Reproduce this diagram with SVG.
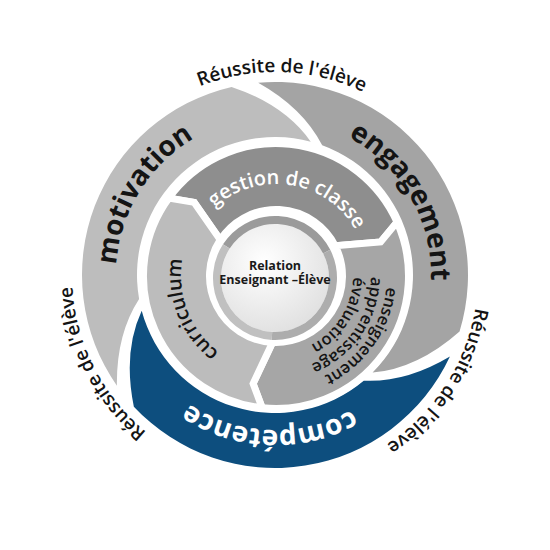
<svg xmlns="http://www.w3.org/2000/svg" width="550" height="550" viewBox="0 0 550 550">
<style>
  text { font-family: "Open Sans", "Noto Sans", "DejaVu Sans", sans-serif; }
  .big { font-size: 28px; font-weight: 700; fill: #141414; }
  .rd { font-size: 19px; font-weight: 600; fill: #141414; }
  .mid { font-size: 20px; font-weight: 600; }
  .sm { font-size: 16.5px; font-weight: 600; fill: #141414; }
  .ctr { font-size: 12.5px; font-weight: 700; fill: #1a1a1a; text-anchor: middle; }
  .seg { stroke: #ffffff; stroke-width: 7; stroke-linejoin: miter; }
  .ring { fill: none; stroke-width: 8; }
</style>
<defs>
  <path id="outerSeg" d="M116.90,385.70 A193,193 0 0 1 231.58,86.95 Q284.63,104.71 310.72,141.70 A138,138 0 0 0 139.10,298.96 Q116.2,334.33 116.90,385.70 Z"/>
  <path id="tpMotivation" d="M216.73,422.94 A159,159 0 1 1 380.36,155.92"/>
  <path id="tpEngagement" d="M174.73,155.50 A156,156 0 1 1 328.35,421.59"/>
  <path id="tpCompetence" d="M428.49,253.43 A155,155 0 1 1 123.39,242.77"/>
  <path id="tpRTop" d="M73.98,303.25 A203,203 0 1 1 473.56,317.21"/>
  <path id="tpRRight" d="M354.32,88.14 A203,203 0 1 1 136.55,423.46"/>
  <path id="tpRLeft" d="M397.17,437.12 A203,203 0 1 1 215.65,80.87"/>
  <path id="tpGestion" d="M184.01,277.61 A92,92 0 1 1 362.99,305.95"/>
  <path id="tpCurriculum" d="M325.64,357.00 A95,95 0 1 1 257.06,182.91"/>
  <path id="tpEns1" d="M322.91,175.40 A111,111 0 1 1 197.51,354.49"/>
  <path id="tpEns2" d="M315.40,189.55 A95,95 0 1 1 209.41,343.76"/>
  <path id="tpEns3" d="M304.84,204.61 A77,77 0 1 1 224.48,333.22"/>
  <radialGradient id="diskGrad" cx="0.4" cy="0.35" r="0.7">
    <stop offset="0" stop-color="#ffffff"/>
    <stop offset="1" stop-color="#e0e0e0"/>
  </radialGradient>
</defs>

<rect width="550" height="550" fill="#ffffff"/>

<g id="motivation">
  <use href="#outerSeg" fill="#bdbdbd"/>
  <text class="big"><textPath href="#tpMotivation" startOffset="50%" text-anchor="middle">motivation</textPath></text>
</g>
<g id="engagement">
  <use href="#outerSeg" fill="#a4a4a4" transform="rotate(120 275 275)"/>
  <text class="big"><textPath href="#tpEngagement" startOffset="50%" text-anchor="middle">engagement</textPath></text>
</g>
<g id="competence">
  <use href="#outerSeg" fill="#0d4e7e" transform="rotate(240 275 275)"/>
  <text class="big" style="fill:#ffffff"><textPath href="#tpCompetence" startOffset="50%" text-anchor="middle">compétence</textPath></text>
</g>

<g id="gestion-de-classe">
  <path class="seg" fill="#8e8e8e" d="M168.81,198.12 A132.5,132.5 0 0 1 397.04,222.11 L380.62,242.01 L335.25,245.81 A66.5,66.5 0 0 0 220.23,239.78 L194.25,202.40 Z"/>
  <text class="mid" style="fill:#ffffff"><textPath href="#tpGestion" startOffset="50%" text-anchor="middle">gestion de classe</textPath></text>
</g>
<g id="enseignement">
  <path class="seg" fill="#a6a6a6" d="M397.04,222.11 A132.5,132.5 0 0 1 262.15,407.77 L253.13,383.60 L272.52,342.41 A66.5,66.5 0 0 0 335.25,245.81 L380.62,242.01 Z"/>
  <text class="sm"><textPath href="#tpEns1" startOffset="50%" text-anchor="middle">enseignement</textPath></text>
  <text class="sm"><textPath href="#tpEns2" startOffset="50%" text-anchor="middle">apprentissage</textPath></text>
  <text class="sm"><textPath href="#tpEns3" startOffset="50%" text-anchor="middle">évaluation</textPath></text>
</g>
<g id="curriculum">
  <path class="seg" fill="#bcbcbc" d="M262.15,407.77 A132.5,132.5 0 0 1 168.81,198.12 L194.25,202.40 L220.23,239.78 A66.5,66.5 0 0 0 272.52,342.41 L253.13,383.60 Z"/>
  <text class="mid" style="fill:#141414"><textPath href="#tpCurriculum" startOffset="50%" text-anchor="middle">curriculum</textPath></text>
</g>

<g id="relation">
  <circle cx="275" cy="278" r="54" fill="url(#diskGrad)"/>
  <path class="ring" stroke="#9b9b9b" d="M226.36,246.41 A58,58 0 0 1 326.68,251.67"/>
  <path class="ring" stroke="#adadad" d="M326.68,251.67 A58,58 0 0 1 271.96,335.92"/>
  <path class="ring" stroke="#c0c0c0" d="M271.96,335.92 A58,58 0 0 1 226.36,246.41"/>
  <text class="ctr" x="275" y="270">Relation</text>
  <text class="ctr" x="275" y="284">Enseignant –Élève</text>
</g>

<g id="reussite-top">
  <text class="rd"><textPath href="#tpRTop" startOffset="50%" text-anchor="middle">Réussite de l'élève</textPath></text>
</g>
<g id="reussite-right">
  <text class="rd"><textPath href="#tpRRight" startOffset="50%" text-anchor="middle">Réussite de l'élève</textPath></text>
</g>
<g id="reussite-left">
  <text class="rd"><textPath href="#tpRLeft" startOffset="50%" text-anchor="middle">Réussite de l'élève</textPath></text>
</g>
<g id="connectors"></g>
</svg>
